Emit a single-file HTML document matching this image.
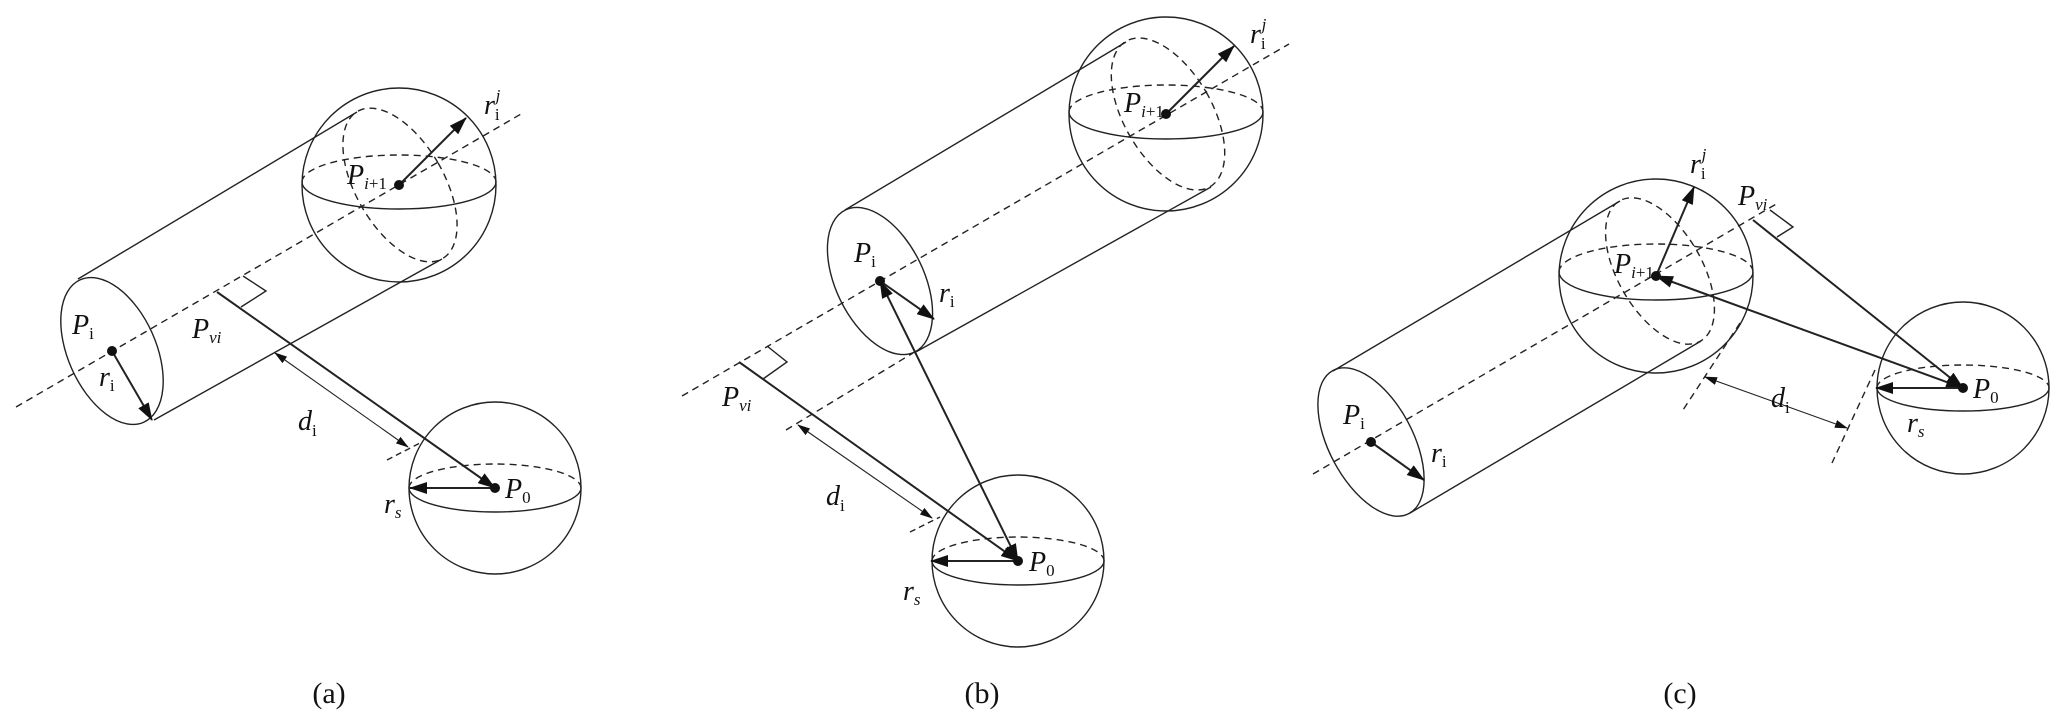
<!DOCTYPE html>
<html><head><meta charset="utf-8"><style>
html,body{margin:0;padding:0;background:#fff;}
svg{display:block;}
text{font-family:"Liberation Serif",serif;fill:#111;}
.it{font-style:italic;font-size:28px;}
.sb{font-size:17px;}
.lab{font-size:30px;}
</style></head><body>
<svg width="2067" height="724" viewBox="0 0 2067 724" xmlns="http://www.w3.org/2000/svg">
<defs>
<marker id="ah" markerUnits="userSpaceOnUse" markerWidth="18" markerHeight="12" viewBox="0 0 18 12" refX="17" refY="6" orient="auto-start-reverse"><path d="M0,0 L18,6 L0,12 z" fill="#111"/></marker>
<marker id="as" markerUnits="userSpaceOnUse" markerWidth="13" markerHeight="8" viewBox="0 0 13 8" refX="12" refY="4" orient="auto-start-reverse"><path d="M0,0 L13,4 L0,8 z" fill="#111"/></marker>
</defs>
<g fill="none" stroke="#222" stroke-width="1.4">
<!-- ===== (a) ===== -->
<line x1="16" y1="407" x2="521" y2="114" stroke-dasharray="7 5"/>
<ellipse cx="112" cy="351" rx="44" ry="78" transform="rotate(-24 112 351)"/>
<line x1="78" y1="279" x2="357" y2="112"/>
<line x1="154" y1="420" x2="442" y2="259"/>
<circle cx="399" cy="185" r="97"/>
<path d="M302,182 A97,27 0 0 1 496,182" stroke-dasharray="7 5"/>
<path d="M302,182 A97,27 0 0 0 496,182"/>
<ellipse cx="400" cy="185" rx="44" ry="85" transform="rotate(-30 400 185)" stroke-dasharray="7 5"/>
<circle cx="495" cy="488" r="86"/>
<path d="M409,488 A86,24 0 0 1 581,488" stroke-dasharray="7 5"/>
<path d="M409,488 A86,24 0 0 0 581,488"/>
<polyline points="243,276 266,291 241,307"/>
<line x1="387" y1="460" x2="422" y2="442" stroke-dasharray="6 4"/>
<line x1="275" y1="353" x2="408" y2="447" stroke-width="1.1" marker-start="url(#as)" marker-end="url(#as)"/>
<line x1="217" y1="292" x2="495" y2="488" stroke-width="2" marker-end="url(#ah)"/>
<line x1="112" y1="351" x2="152" y2="420" stroke-width="2" marker-end="url(#ah)"/>
<line x1="399" y1="185" x2="466" y2="118" stroke-width="2" marker-end="url(#ah)"/>
<line x1="495" y1="488" x2="410" y2="488" stroke-width="2" marker-end="url(#ah)"/>

<!-- ===== (b) ===== -->
<line x1="682" y1="396" x2="1289" y2="44" stroke-dasharray="7 5"/>
<line x1="786" y1="430" x2="913" y2="353" stroke-dasharray="7 5"/>
<ellipse cx="880" cy="281" rx="44" ry="79" transform="rotate(-26 880 281)"/>
<line x1="845" y1="210" x2="1126" y2="42"/>
<line x1="914" y1="353" x2="1211" y2="187"/>
<circle cx="1166" cy="114" r="97"/>
<path d="M1069,112 A97,27 0 0 1 1263,112" stroke-dasharray="7 5"/>
<path d="M1069,112 A97,27 0 0 0 1263,112"/>
<ellipse cx="1168" cy="114" rx="44" ry="84" transform="rotate(-30 1168 114)" stroke-dasharray="7 5"/>
<circle cx="1018" cy="561" r="86"/>
<path d="M932,561 A86,24 0 0 1 1104,561" stroke-dasharray="7 5"/>
<path d="M932,561 A86,24 0 0 0 1104,561"/>
<polyline points="767,346 787,362 763,379"/>
<line x1="910" y1="532" x2="940" y2="517" stroke-dasharray="6 4"/>
<line x1="798" y1="425" x2="932" y2="518" stroke-width="1.1" marker-start="url(#as)" marker-end="url(#as)"/>
<line x1="739" y1="362" x2="1018" y2="561" stroke-width="2" marker-end="url(#ah)"/>
<line x1="880" y1="281" x2="1018" y2="561" stroke-width="2" marker-start="url(#ah)" marker-end="url(#ah)"/>
<line x1="880" y1="281" x2="934" y2="319" stroke-width="2" marker-end="url(#ah)"/>
<line x1="1166" y1="114" x2="1234" y2="46" stroke-width="2" marker-end="url(#ah)"/>
<line x1="1018" y1="561" x2="931" y2="561" stroke-width="2" marker-end="url(#ah)"/>

<!-- ===== (c) ===== -->
<line x1="1313" y1="474" x2="1778" y2="203" stroke-dasharray="7 5"/>
<ellipse cx="1371" cy="442" rx="42" ry="81" transform="rotate(-28 1371 442)"/>
<line x1="1333" y1="371" x2="1620" y2="201"/>
<line x1="1410" y1="513" x2="1701" y2="341"/>
<circle cx="1656" cy="276" r="97"/>
<path d="M1559,272 A97,28 0 0 1 1753,272" stroke-dasharray="7 5"/>
<path d="M1559,272 A97,28 0 0 0 1753,272"/>
<ellipse cx="1660" cy="271" rx="42" ry="81" transform="rotate(-30 1660 271)" stroke-dasharray="7 5"/>
<circle cx="1963" cy="388" r="86"/>
<path d="M1877,388 A86,23 0 0 1 2049,388" stroke-dasharray="7 5"/>
<path d="M1877,388 A86,23 0 0 0 2049,388"/>
<polyline points="1770,210 1793,227 1777,237"/>
<line x1="1740" y1="323" x2="1683" y2="410" stroke-dasharray="7 5"/>
<line x1="1875" y1="370" x2="1832" y2="463" stroke-dasharray="7 5"/>
<line x1="1705" y1="377" x2="1847" y2="428" stroke-width="1.1" marker-start="url(#as)" marker-end="url(#as)"/>
<line x1="1753" y1="220" x2="1963" y2="388" stroke-width="2" marker-end="url(#ah)"/>
<line x1="1963" y1="388" x2="1656" y2="276" stroke-width="2" marker-start="url(#ah)" marker-end="url(#ah)"/>
<line x1="1371" y1="442" x2="1424" y2="480" stroke-width="2" marker-end="url(#ah)"/>
<line x1="1656" y1="276" x2="1694" y2="187" stroke-width="2" marker-end="url(#ah)"/>
<line x1="1963" y1="388" x2="1876" y2="388" stroke-width="2" marker-end="url(#ah)"/>
</g>
<g fill="#111">
<circle cx="112" cy="351" r="5"/><circle cx="399" cy="185" r="5"/><circle cx="495" cy="488" r="5"/>
<circle cx="880" cy="281" r="5"/><circle cx="1166" cy="114" r="5"/><circle cx="1018" cy="561" r="5"/>
<circle cx="1371" cy="442" r="5"/><circle cx="1656" cy="276" r="5"/><circle cx="1963" cy="388" r="5"/>
</g>
<!-- labels (a) -->
<text x="72" y="334" class="it">P<tspan class="sb" font-style="normal" dy="5">i</tspan></text>
<text x="99" y="386" class="it">r<tspan class="sb" font-style="normal" dy="5">i</tspan></text>
<text x="192" y="338" class="it">P<tspan class="sb" dy="5">vi</tspan></text>
<text x="347" y="184" class="it">P<tspan class="sb" dy="5">i</tspan><tspan class="sb" font-style="normal">+1</tspan></text>
<text x="484" y="114" class="it">r<tspan class="sb" font-style="normal" dy="6">i</tspan><tspan class="sb" dx="-4" dy="-19">j</tspan></text>
<text x="298" y="430" class="it">d<tspan class="sb" font-style="normal" dy="6">i</tspan></text>
<text x="505" y="498" class="it">P<tspan class="sb" font-style="normal" dy="5">0</tspan></text>
<text x="384" y="513" class="it">r<tspan class="sb" dy="5">s</tspan></text>
<text x="329" y="703" class="lab" text-anchor="middle">(a)</text>
<!-- labels (b) -->
<text x="854" y="262" class="it">P<tspan class="sb" font-style="normal" dy="5">i</tspan></text>
<text x="939" y="302" class="it">r<tspan class="sb" font-style="normal" dy="5">i</tspan></text>
<text x="722" y="406" class="it">P<tspan class="sb" dy="5">vi</tspan></text>
<text x="1124" y="112" class="it">P<tspan class="sb" dy="5">i</tspan><tspan class="sb" font-style="normal">+1</tspan></text>
<text x="1250" y="43" class="it">r<tspan class="sb" font-style="normal" dy="6">i</tspan><tspan class="sb" dx="-4" dy="-19">j</tspan></text>
<text x="826" y="505" class="it">d<tspan class="sb" font-style="normal" dy="6">i</tspan></text>
<text x="1029" y="571" class="it">P<tspan class="sb" font-style="normal" dy="5">0</tspan></text>
<text x="903" y="600" class="it">r<tspan class="sb" dy="5">s</tspan></text>
<text x="982" y="703" class="lab" text-anchor="middle">(b)</text>
<!-- labels (c) -->
<text x="1343" y="424" class="it">P<tspan class="sb" font-style="normal" dy="5">i</tspan></text>
<text x="1431" y="462" class="it">r<tspan class="sb" font-style="normal" dy="5">i</tspan></text>
<text x="1738" y="205" class="it">P<tspan class="sb" dy="5">vi</tspan></text>
<text x="1614" y="273" class="it">P<tspan class="sb" dy="5">i</tspan><tspan class="sb" font-style="normal">+1</tspan></text>
<text x="1690" y="173" class="it">r<tspan class="sb" font-style="normal" dy="6">i</tspan><tspan class="sb" dx="-4" dy="-19">j</tspan></text>
<text x="1771" y="407" class="it">d<tspan class="sb" font-style="normal" dy="6">i</tspan></text>
<text x="1973" y="398" class="it">P<tspan class="sb" font-style="normal" dy="5">0</tspan></text>
<text x="1907" y="432" class="it">r<tspan class="sb" dy="5">s</tspan></text>
<text x="1680" y="703" class="lab" text-anchor="middle">(c)</text>
</svg>
</body></html>
